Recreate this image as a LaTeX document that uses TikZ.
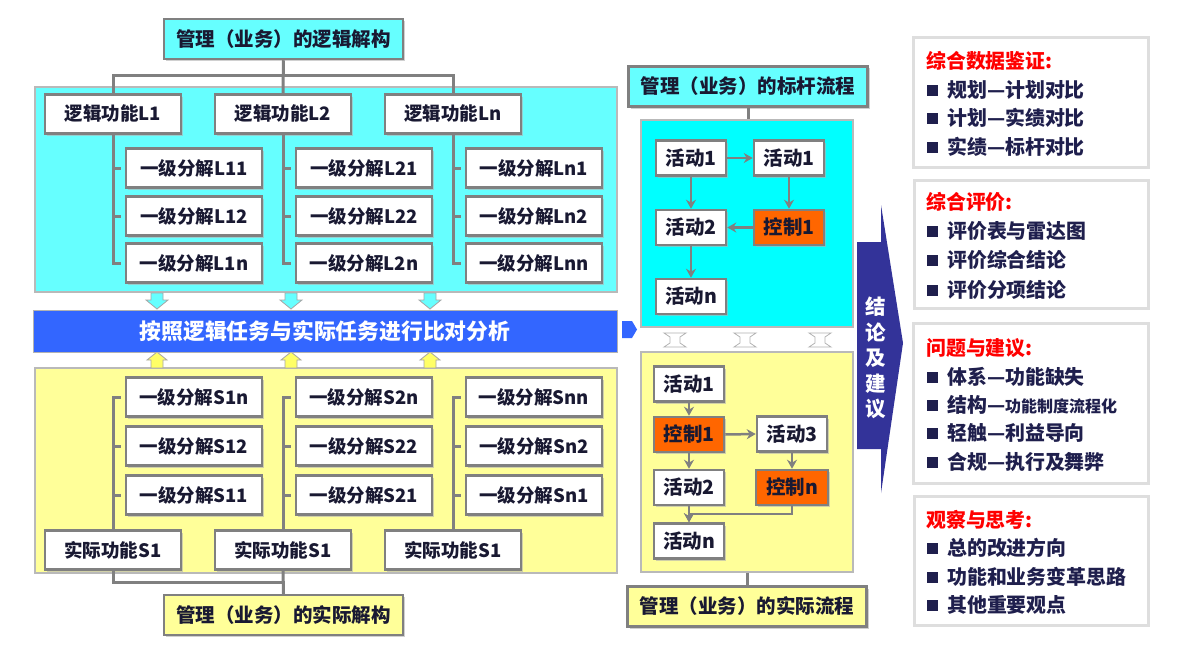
\documentclass[tikz,border=0pt]{standalone}
\usepackage{fontspec}
\setmainfont{Noto Sans CJK SC}
\usetikzlibrary{arrows.meta,shadows}
\definecolor{cyanL}{RGB}{102,255,255}
\definecolor{cyanB}{RGB}{0,255,255}
\definecolor{yellowL}{RGB}{255,255,153}
\definecolor{yellowA}{RGB}{255,255,102}
\definecolor{orangeC}{RGB}{255,102,0}
\definecolor{barblue}{RGB}{51,102,255}
\definecolor{darkarrow}{RGB}{51,51,153}
\definecolor{bgray}{RGB}{128,128,128}
\definecolor{cgray}{RGB}{128,128,128}
\definecolor{boxtext}{RGB}{25,25,50}
\definecolor{navy}{RGB}{31,31,77}
\definecolor{rboxgray}{RGB}{222,222,222}
\newcommand\myfs[1]{\fontsize{#1}{#1}\selectfont}
\tikzset{
  box/.style={draw=bgray, line width=2.5pt, fill=white, inner sep=0pt, text=boxtext,
    font=\bfseries\myfs{18.5}, minimum width=136pt, minimum height=39pt,
    drop shadow={shadow xshift=2pt,shadow yshift=-2pt,fill=gray!60,opacity=0.6}},
  titlebox/.style={box, minimum width=239pt, minimum height=40pt, font=\bfseries\myfs{19.5}},
  flowbox/.style={box, minimum width=70pt, minimum height=35pt, font=\bfseries\myfs{19.5}},
  ctrl/.style={fill=orangeC},
  panel/.style={draw=gray!55, line width=1.2pt, inner sep=0pt},
  conn/.style={draw=cgray, line width=3pt},
  arr/.style={draw=cgray, line width=2.5pt, -{Stealth[length=9pt,width=10pt]}},
  rbox/.style={draw=rboxgray, line width=3pt, fill=white, inner sep=0pt},
  rtitle/.style={anchor=west, inner sep=0pt, font=\bfseries\myfs{19.9}, text=red},
  ritem/.style={anchor=west, inner sep=0pt, font=\bfseries\myfs{19.9}, text=navy},
  bul/.style={fill=navy, minimum size=11pt, inner sep=0pt},
}
\begin{document}
\begin{tikzpicture}[x=1pt,y=-1pt]
\fill[white] (0,0) rectangle (1186,661);
\useasboundingbox (0,0) rectangle (1186,661);

% ---------- left logical panel ----------
\node[panel, fill=cyanL, minimum width=582pt, minimum height=205pt] (pL) at (326,189.5) {};
\node[titlebox, fill=cyanL] (tL) at (283.5,39) {管理（业务）的逻辑解构};
\node[box] (FL1) at (113,114) {逻辑功能L1};
\node[box] (FL2) at (283,114) {逻辑功能L2};
\node[box] (FLn) at (453,114) {逻辑功能Ln};
\node[box] (L11) at (194,168) {一级分解L11};
\node[box] (L12) at (194,216) {一级分解L12};
\node[box] (L1n) at (194,263) {一级分解L1n};
\node[box] (L21) at (364,168) {一级分解L21};
\node[box] (L22) at (364,216) {一级分解L22};
\node[box] (L2n) at (364,263) {一级分解L2n};
\node[box] (Ln1) at (534,168) {一级分解Ln1};
\node[box] (Ln2) at (534,216) {一级分解Ln2};
\node[box] (Lnn) at (534,263) {一级分解Lnn};

\draw[conn] (FL1.north) -- ++(0,-18) -| (FLn.north);
\draw[conn] (tL.south) -- (FL2.north);
\foreach \f/\a/\b/\c in {FL1/L11/L12/L1n, FL2/L21/L22/L2n, FLn/Ln1/Ln2/Lnn}{
  \draw[conn] (\f.south) |- ([xshift=-4pt]\c.west);
  \draw[conn] ([xshift=-4pt]\a.west) -- (\a.west -| \f.south);
  \draw[conn] ([xshift=-4pt]\b.west) -- (\b.west -| \f.south);
}

% ---------- lower actual panel ----------
\node[panel, fill=yellowL, minimum width=582pt, minimum height=205pt] (pS) at (326,470.5) {};
\node[box] (S1n) at (194,397) {一级分解S1n};
\node[box] (S12) at (194,446) {一级分解S12};
\node[box] (S11) at (194,495) {一级分解S11};
\node[box] (S2n) at (364,397) {一级分解S2n};
\node[box] (S22) at (364,446) {一级分解S22};
\node[box] (S21) at (364,495) {一级分解S21};
\node[box] (Snn) at (534,397) {一级分解Snn};
\node[box] (Sn2) at (534,446) {一级分解Sn2};
\node[box] (Sn1) at (534,495) {一级分解Sn1};
\node[box] (FS1) at (113,550) {实际功能S1};
\node[box] (FS2) at (283,550) {实际功能S1};
\node[box] (FS3) at (453,550) {实际功能S1};
\node[titlebox, fill=yellowL] (tS) at (283.5,615) {管理（业务）的实际解构};
\foreach \f/\a/\b/\c in {FS1/S1n/S12/S11, FS2/S2n/S22/S21, FS3/Snn/Sn2/Sn1}{
  \draw[conn] ([xshift=-4pt]\a.west) -| (\f.north);
  \draw[conn] ([xshift=-4pt]\b.west) -- (\b.west -| \f.north);
  \draw[conn] ([xshift=-4pt]\c.west) -- (\c.west -| \f.north);
}
\draw[conn] (FS1.south) -- ++(0,12) -| (tS.north);
\draw[conn] (FS2.south) -- (tS.north);

% ---------- small arrows and comparison bar ----------
\foreach \x in {157,291,430}{
  \draw[fill=cyanL, draw=gray!70, line width=0.8pt]
    (\x-6,293) -- (\x+6,293) -- (\x+6,300) -- (\x+11,300) -- (\x,309) -- (\x-11,300) -- (\x-6,300) -- cycle;
  \draw[fill=yellowA, draw=gray!70, line width=0.8pt]
    (\x,352) -- (\x+10,360) -- (\x+6,360) -- (\x+6,368) -- (\x-6,368) -- (\x-6,360) -- (\x-10,360) -- cycle;
}
\node[draw=gray!60, line width=1pt, fill=barblue, minimum width=584pt, minimum height=42pt,
  inner sep=0pt, text=white, font=\bfseries\myfs{21.8}] (bar) at (325,331) {按照逻辑任务与实际任务进行比对分析};
\fill[barblue] (622,321) -- (632,321) -- (637,329.5) -- (632,338) -- (622,338) -- cycle;

% ---------- benchmark flow ----------
\node[titlebox, fill=cyanL] (tB) at (748,86.5) {管理（业务）的标杆流程};
\node[panel, fill=cyanB, minimum width=212pt, minimum height=207pt] (pB) at (747,223.5) {};
\draw[conn] (tB.south) -- (tB.south |- pB.north);
\node[flowbox] (a1) at (691,158) {活动1};
\node[flowbox] (a1b) at (789,158) {活动1};
\node[flowbox] (a2) at (691,227.5) {活动2};
\node[flowbox, ctrl] (c1) at (789,227.5) {控制1};
\node[flowbox] (an) at (691,296.5) {活动n};
\draw[arr] (a1.east) -- (a1b.west);
\draw[arr] (a1.south) -- (a2.north);
\draw[arr] (a1b.south) -- (c1.north);
\draw[arr] (c1.west) -- (a2.east);
\draw[arr] (a2.south) -- (an.north);

% hollow double arrows between flows
\foreach \x in {675,745,820}{
  \draw[draw=gray!60, line width=0.8pt, fill=white]
    (\x-11,333) -- (\x+11,333) -- (\x+5,337) -- (\x+5,343) -- (\x+11,347) -- (\x-11,347) -- (\x-5,343) -- (\x-5,337) -- cycle;
}

% ---------- actual flow ----------
\node[panel, fill=yellowL, minimum width=212pt, minimum height=220pt] (pA) at (747,462) {};
\node[titlebox, fill=yellowL] (tA) at (747,606.5) {管理（业务）的实际流程};
\draw[conn] (pA.south) -- (pA.south |- tA.north);
\node[flowbox] (b1) at (689,384) {活动1};
\node[flowbox, ctrl] (bc1) at (689,434.5) {控制1};
\node[flowbox] (b3) at (792,434) {活动3};
\node[flowbox] (b2) at (689,487.5) {活动2};
\node[flowbox, ctrl, minimum width=72pt] (bcn) at (792,487.5) {控制n};
\node[flowbox] (bn) at (689,541) {活动n};
\draw[arr] (b1.south) -- (bc1.north);
\draw[arr] (bc1.east) -- (b3.west);
\draw[arr] (bc1.south) -- (b2.north);
\draw[arr] (b3.south) -- (bcn.north);
\draw[arr] (b2.south) -- (bn.north);
\draw[arr] (bcn.south) -- ++(0,7.5) -| (bn.north);

% ---------- conclusion arrow ----------
\fill[darkarrow] (857,242) -- (881,242) -- (881,205) -- (903,343) -- (881,493) -- (881,449) -- (857,449) -- cycle;
\node[text=white, font=\bfseries\fontsize{20.5}{25.5}\selectfont, align=center, inner sep=0pt] (concl) at (876,358)
  {结\\论\\及\\建\\议};

% ---------- right text boxes ----------
\node[rbox, minimum width=235pt, minimum height=129pt] (R1) at (1030.5,102.5) {};
\node[rbox, minimum width=234pt, minimum height=128pt] (R2) at (1031,244) {};
\node[rbox, minimum width=235pt, minimum height=160pt] (R3) at (1030.5,403) {};
\node[rbox, minimum width=234pt, minimum height=129pt] (R4) at (1031,560.5) {};

\node[rtitle] (R1t) at (926,61) {综合数据鉴证:};
\node[rtitle] (R2t) at (926,202) {综合评价:};
\node[rtitle] (R3t) at (926,348) {问题与建议:};
\node[rtitle] (R4t) at (926,520) {观察与思考:};

\foreach \n/\y/\t in {1a/90/规划—计划对比, 1b/118/计划—实绩对比, 1c/147/实绩—标杆对比,
  2a/231/评价表与雷达图, 2b/260/评价综合结论, 2c/290/评价分项结论,
  3a/377/体系—功能缺失, 3c/433/轻触—利益导向, 3d/462/合规—执行及舞弊,
  4a/548/总的改进方向, 4b/577/功能和业务变革思路, 4c/605/其他重要观点}{
  \node[bul] (B\n) at (932.5,\y) {};
  \node[ritem] (I\n) at (947,\y) {\t};
}
\node[bul] (B3b) at (932.5,405) {};
\node[ritem] (I3b) at (947,405) {结构—{\myfs{16}功能制度流程化}};
\end{tikzpicture}
\end{document}
